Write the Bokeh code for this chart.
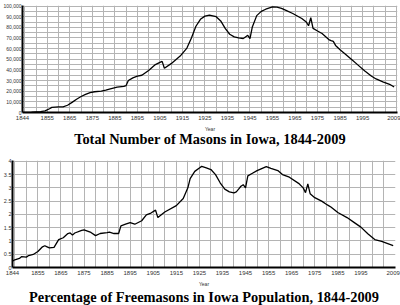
from bokeh.plotting import figure
from bokeh.layouts import column, row
from bokeh.models import (FixedTicker, SingleIntervalTicker, NumeralTickFormatter,
                          Title, Range1d)
from bokeh.embed import file_html
from bokeh.resources import INLINE

# ---- data ----
mason_years = [1844, 1848, 1852, 1854, 1856, 1857, 1860, 1862, 1864, 1866, 1868, 1870,
               1872, 1874, 1876, 1879, 1881, 1883, 1886, 1889, 1890, 1891, 1893, 1895,
               1897, 1900, 1903, 1905, 1906, 1907, 1910, 1914, 1917, 1919, 1921, 1923,
               1925, 1927, 1930, 1932, 1934, 1936, 1938, 1940, 1942, 1943, 1944, 1945,
               1946, 1948, 1950, 1952, 1955, 1957, 1959, 1961, 1964, 1968, 1970, 1971,
               1972, 1973, 1975, 1977, 1980, 1981, 1982, 1983, 1985, 1987, 1990, 1993,
               1996, 1999, 2001, 2004, 2007, 2009]
mason_counts = [0, 300, 800, 1500, 3500, 4800, 5200, 5200, 6800, 9500, 12500, 15000,
                17000, 18700, 19500, 20000, 21000, 22300, 23800, 24500, 25300, 30000, 32500, 34200,
                35000, 39500, 45000, 47000, 48000, 41500, 45900, 53000, 60500, 70000, 81000, 87500,
                90500, 91500, 90000, 86000, 79000, 73500, 71000, 70000, 69500, 71000, 72500, 69500,
                80000, 91000, 95000, 97000, 99300, 99000, 97800, 96000, 93000, 88300, 85000, 81500,
                89000, 79000, 76500, 74200, 68500, 67500, 66800, 63000, 59000, 55500, 50000, 44500,
                39000, 34000, 31500, 28800, 26500, 24000]

pct_years = [1844, 1845, 1847, 1848, 1850, 1851, 1853, 1855, 1857, 1858, 1859, 1860,
             1862, 1864, 1866, 1868, 1869, 1870, 1871, 1874, 1875, 1878, 1880, 1882,
             1885, 1886, 1888, 1890, 1891, 1893, 1895, 1897, 1900, 1902, 1904, 1906,
             1907, 1910, 1915, 1918, 1920, 1921, 1923, 1925, 1926, 1928, 1930, 1932,
             1934, 1936, 1938, 1940, 1941, 1942, 1943, 1944, 1945, 1946, 1948, 1950,
             1954, 1956, 1959, 1961, 1964, 1968, 1970, 1971, 1972, 1973, 1975, 1978,
             1980, 1981, 1982, 1985, 1989, 1992, 1995, 1998, 2001, 2004, 2009]
pct_values = [0.24, 0.29, 0.34, 0.41, 0.39, 0.45, 0.49, 0.60, 0.78, 0.82, 0.78, 0.74,
              0.76, 1.05, 1.12, 1.28, 1.30, 1.22, 1.30, 1.40, 1.42, 1.32, 1.20, 1.28,
              1.31, 1.33, 1.28, 1.28, 1.57, 1.63, 1.69, 1.63, 1.76, 1.98, 2.05, 2.16,
              1.88, 2.09, 2.33, 2.60, 3.00, 3.35, 3.62, 3.75, 3.81, 3.75, 3.69, 3.50,
              3.19, 2.95, 2.85, 2.81, 2.85, 2.95, 3.06, 3.12, 3.00, 3.45, 3.55, 3.65,
              3.80, 3.73, 3.65, 3.50, 3.40, 3.17, 3.00, 2.82, 3.15, 2.78, 2.63, 2.50,
              2.38, 2.33, 2.28, 2.07, 1.88, 1.70, 1.52, 1.27, 1.05, 0.98, 0.82]

year_ticks = [1844, 1855, 1865, 1875, 1885, 1895, 1905, 1915, 1925, 1935,
              1945, 1955, 1965, 1975, 1985, 1995, 2009]
count_ticks = [0, 10000, 20000, 30000, 40000, 50000, 60000, 70000, 80000, 90000, 100000]
pct_ticks = [0, 0.5, 1, 1.5, 2, 2.5, 3, 3.5, 4]

title1 = "Total Number of Masons in Iowa, 1844-2009"
title2 = "Percentage of Freemasons in Iowa Population, 1844-2009"

TICK_FONT = "Liberation Sans"
TITLE_FONT = "Liberation Serif"


def style(p, xticks, yticks, title, title_standoff, ylabel_size):
    p.outline_line_color = None
    for ax in (p.xaxis[0], p.yaxis[0]):
        ax.axis_line_color = "black"
        ax.axis_line_width = 2
        ax.major_tick_line_color = None
        ax.minor_tick_line_color = None
        ax.major_tick_out = 0
        ax.minor_tick_out = 0
        ax.major_label_text_font = TICK_FONT
        ax.major_label_text_font_size = "6px"
        ax.major_label_text_color = "#333333"
        ax.major_label_standoff = 3
    p.yaxis[0].major_label_text_font_size = ylabel_size
    p.yaxis[0].major_label_standoff = 1
    p.xaxis[0].ticker = FixedTicker(ticks=xticks)
    p.yaxis[0].ticker = FixedTicker(ticks=yticks)
    p.xaxis[0].axis_label = "Year"
    p.xaxis[0].axis_label_text_font = TICK_FONT
    p.xaxis[0].axis_label_text_font_size = "5px"
    p.xaxis[0].axis_label_text_font_style = "normal"
    p.xaxis[0].axis_label_text_color = "#333333"
    p.xaxis[0].axis_label_standoff = 3
    p.grid.grid_line_color = "#b4b4b4"
    p.grid.grid_line_alpha = 1.0
    p.grid.grid_line_width = 1
    t = Title(text=title, align="center", text_font=TITLE_FONT,
              text_font_size="14.4px", text_font_style="bold", text_color="black",
              standoff=title_standoff)
    p.add_layout(t, "below")


p1 = figure(width=400, height=150, output_backend="svg", toolbar_location=None,
            x_range=Range1d(1844, 2010.5), y_range=Range1d(0, 100500),
            min_border_left=21, min_border_right=3, min_border_top=5, min_border_bottom=38)
p1.line(mason_years, mason_counts, line_color="black", line_width=1.3)
style(p1, year_ticks, count_ticks, title1, -11, "5px")
p1.yaxis[0].formatter = NumeralTickFormatter(format="0,0")
p1.xgrid[0].ticker = SingleIntervalTicker(interval=5)
p1.ygrid[0].ticker = SingleIntervalTicker(interval=5000)

p2 = figure(width=400, height=155, output_backend="svg", toolbar_location=None,
            x_range=Range1d(1844, 2010), y_range=Range1d(0, 4.03),
            min_border_left=12, min_border_right=5, min_border_top=10, min_border_bottom=38)
p2.line(pct_years, pct_values, line_color="black", line_width=1.3)
style(p2, year_ticks, pct_ticks, title2, -6, "5.5px")
p2.yaxis[0].formatter = NumeralTickFormatter(format="0.[0]")
p2.xgrid[0].ticker = SingleIntervalTicker(interval=5)

layout = column(row(p1), row(p2), spacing=0)
open("out.html", "w").write(file_html(layout, INLINE))
